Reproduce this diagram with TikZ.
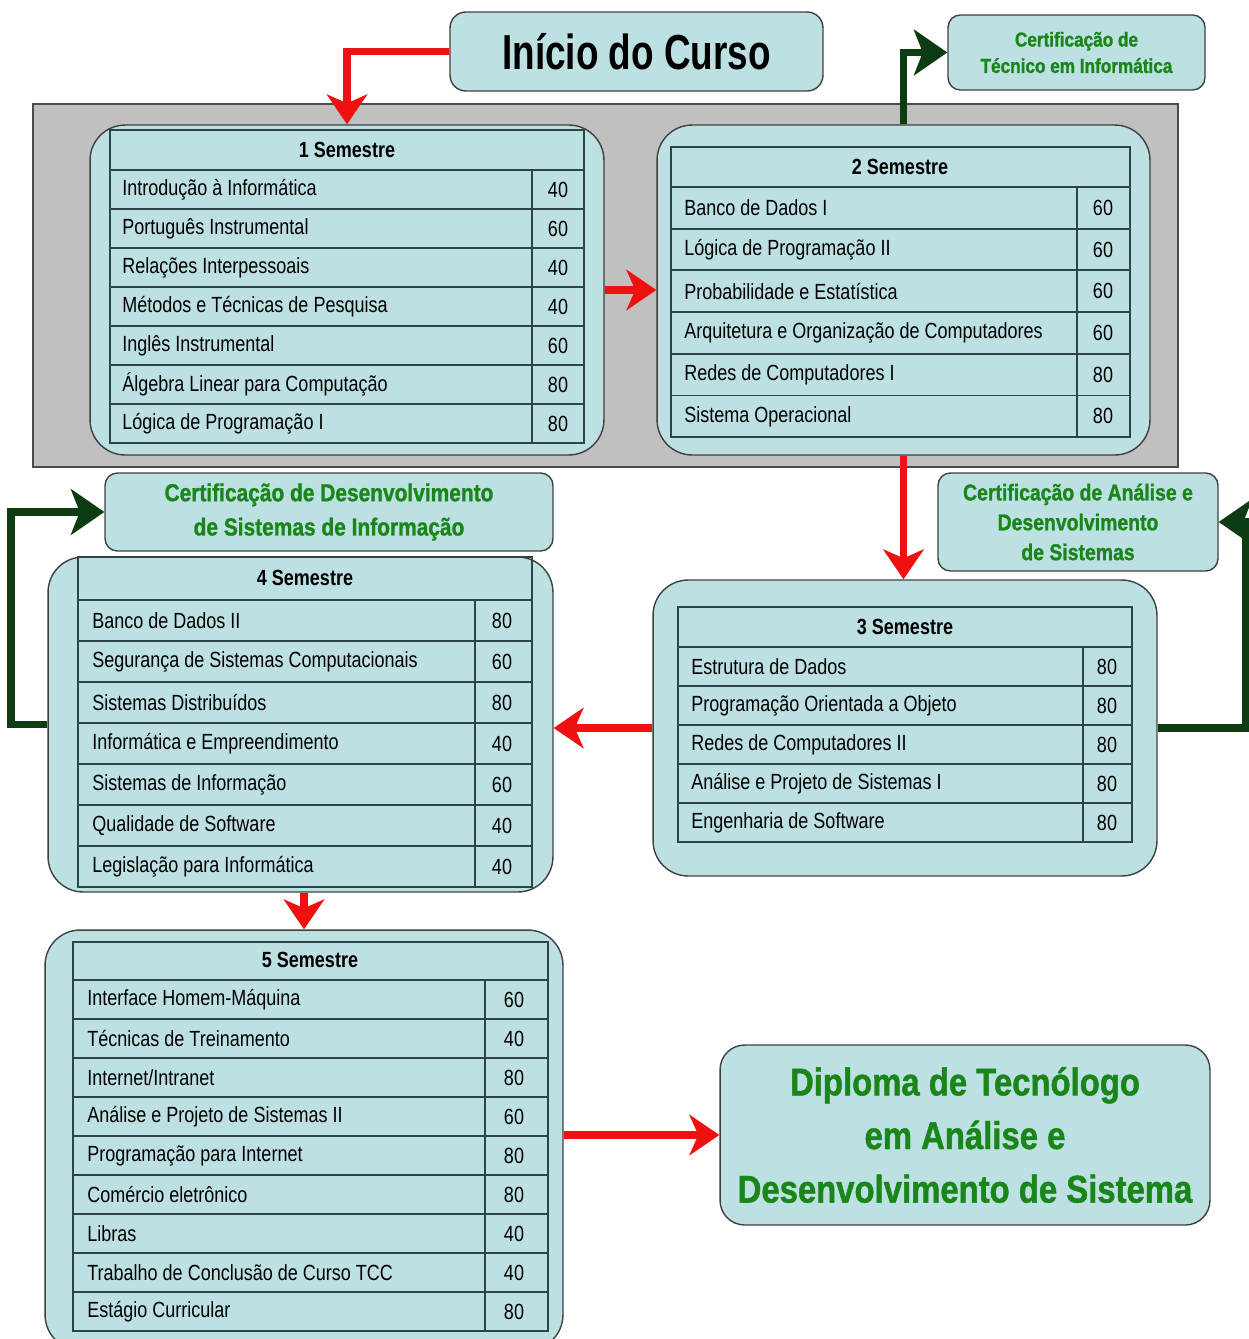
\documentclass[tikz,border=0pt]{standalone}
\usepackage{fontspec}
\setmainfont{Liberation Sans}
\newfontfamily\narrowfont[FakeStretch=0.82]{Liberation Sans}
\newfontfamily\titlefont[FakeStretch=0.75]{Liberation Sans}
\newfontfamily\certfont[FakeStretch=0.85,FakeBold=1.2]{Liberation Sans}
\usetikzlibrary{arrows.meta}
\definecolor{cardfill}{HTML}{BDE0E3}
\definecolor{panelgray}{HTML}{C0C0C0}
\definecolor{arrowred}{HTML}{F01010}
\definecolor{arrowgreen}{HTML}{0D3B12}
\definecolor{certgreen}{HTML}{1A861A}
\definecolor{tabcolor}{HTML}{2E4545}
\tikzset{
  card/.style={draw=black!75, fill=cardfill, line width=0.8pt, rounded corners=20pt},
  certbox/.style={draw=black!75, fill=cardfill, line width=0.8pt, rounded corners=7pt, align=center, text=certgreen},
  tabline/.style={draw=tabcolor, line width=1.1pt},
  rowtext/.style={anchor=west, inner sep=0pt, font=\narrowfont\fontsize{12.5}{14}\selectfont},
  numtext/.style={inner sep=0pt, font=\narrowfont\fontsize{12.5}{14}\selectfont},
  headtext/.style={inner sep=0pt, font=\narrowfont\bfseries\fontsize{12.5}{14}\selectfont},
  redarrow/.style={draw=arrowred, line width=4.5pt, -{Stealth[length=17pt,width=23pt,inset=5pt]}},
  greenarrow/.style={draw=arrowgreen, line width=4.5pt, -{Stealth[length=19pt,width=26pt,inset=5pt]}}
}
\begin{document}
\begin{tikzpicture}[x=0.02cm,y=-0.02cm]
\useasboundingbox (0,0) rectangle (1248,1339);

\draw[draw=black!70, fill=panelgray, line width=0.8pt] (33,104) rectangle (1178,467);

\node[card, rounded corners=9pt, minimum width=7.46cm, minimum height=1.58cm,
      font=\titlefont\bfseries\fontsize{28}{32}\selectfont] (inicio) at (636.5,51.5) {Início do Curso};
\node[certbox, minimum width=5.14cm, minimum height=1.5cm,
      font=\certfont\bfseries\fontsize{11.5}{15}\selectfont] (certtec) at (1076.5,52.5)
      {Certificação de\\Técnico em Informática};
\node[certbox, minimum width=5.6cm, minimum height=1.96cm,
      font=\certfont\bfseries\fontsize{13}{17}\selectfont] (certads) at (1078,522)
      {Certificação de Análise e\\Desenvolvimento\\de Sistemas};
\node[certbox, minimum width=8.96cm, minimum height=1.56cm,
      font=\certfont\bfseries\fontsize{14}{19.5}\selectfont] (certsi) at (329,512)
      {Certificação de Desenvolvimento\\de Sistemas de Informação};
\node[certbox, rounded corners=14pt, minimum width=9.8cm, minimum height=3.6cm,
      font=\certfont\bfseries\fontsize{22}{30.5}\selectfont] (diploma) at (965,1135)
      {Diploma de Tecnólogo\\em Análise e\\Desenvolvimento de Sistema};

\node[card, minimum width=10.28cm, minimum height=6.6cm] (sem1) at (347,290) {};
\node[card, minimum width=9.86cm, minimum height=6.6cm] (sem2) at (903.5,290) {};
\node[card, minimum width=10.08cm, minimum height=5.92cm] (sem3) at (905,728) {};
\node[card, minimum width=10.1cm, minimum height=6.7cm] (sem4) at (300.5,724.5) {};
\node[card, minimum width=10.36cm, minimum height=8.4cm] (sem5) at (304,1140) {};

\node[headtext] (h1) at (347,150) {1 Semestre};
\foreach \t/\n [count=\i] in {Introdução à Informática/40, Português Instrumental/60,
    Relações Interpessoais/40, Métodos e Técnicas de Pesquisa/40, Inglês Instrumental/60,
    Álgebra Linear para Computação/80, Lógica de Programação I/80}{
  \node[rowtext] (s1r\i) at (122,{170+(\i-0.5)*39}) {\t};
  \node[numtext] (s1n\i) at (558,{170+(\i-0.5)*39}) {\n};
  \draw[tabline] (110,{170+\i*39}) -- (584,{170+\i*39});
}
\draw[tabline] (110,130) rectangle (584,443) (110,170) -- (584,170) (532,170) -- (532,443);

\node[headtext] (h2) at (900,167) {2 Semestre};
\foreach \t/\n [count=\i] in {Banco de Dados I/60, Lógica de Programação II/60,
    Probabilidade e Estatística/60, Arquitetura e Organização de Computadores/60,
    Redes de Computadores I/80, Sistema Operacional/80}{
  \node[rowtext] (s2r\i) at (684,{187+(\i-0.5)*41.7}) {\t};
  \node[numtext] (s2n\i) at (1103,{187+(\i-0.5)*41.7}) {\n};
  \draw[tabline] (671,{187+\i*41.7}) -- (1130,{187+\i*41.7});
}
\draw[tabline] (671,147) rectangle (1130,437) (671,187) -- (1130,187) (1077,187) -- (1077,437);

\node[headtext] (h3) at (905,627) {3 Semestre};
\foreach \t/\n [count=\i] in {Estrutura de Dados/80, Programação Orientada a Objeto/80,
    Redes de Computadores II/80, Análise e Projeto de Sistemas I/80, Engenharia de Software/80}{
  \node[rowtext] (s3r\i) at (691,{647+(\i-0.5)*39}) {\t};
  \node[numtext] (s3n\i) at (1107,{647+(\i-0.5)*39}) {\n};
  \draw[tabline] (678,{647+\i*39}) -- (1132,{647+\i*39});
}
\draw[tabline] (678,607) rectangle (1132,842) (678,647) -- (1132,647) (1083,647) -- (1083,842);

\node[headtext] (h4) at (305,578) {4 Semestre};
\foreach \t/\n [count=\i] in {Banco de Dados II/80, Segurança de Sistemas Computacionais/60,
    Sistemas Distribuídos/80, Informática e Empreendimento/40, Sistemas de Informação/60,
    Qualidade de Software/40, Legislação para Informática/40}{
  \node[rowtext] (s4r\i) at (92,{600+(\i-0.5)*41}) {\t};
  \node[numtext] (s4n\i) at (502,{600+(\i-0.5)*41}) {\n};
  \draw[tabline] (78,{600+\i*41}) -- (532,{600+\i*41});
}
\draw[tabline] (78,557) rectangle (532,887) (78,600) -- (532,600) (475,600) -- (475,887);

\node[headtext] (h5) at (310,960) {5 Semestre};
\foreach \t/\n [count=\i] in {Interface Homem-Máquina/60, Técnicas de Treinamento/40,
    {Internet/Intranet}/80, Análise e Projeto de Sistemas II/60, Programação para Internet/80,
    Comércio eletrônico/80, Libras/40, Trabalho de Conclusão de Curso TCC/40,
    Estágio Curricular/80}{
  \node[rowtext] (s5r\i) at (87,{980+(\i-0.5)*39}) {\t};
  \node[numtext] (s5n\i) at (514,{980+(\i-0.5)*39}) {\n};
  \draw[tabline] (73,{980+\i*39}) -- (548,{980+\i*39});
}
\draw[tabline] (73,942) rectangle (548,1331) (73,980) -- (548,980) (485,980) -- (485,1331);

\draw[redarrow] (inicio.west) -| (sem1.north);
\draw[redarrow] (sem1.east) -- (sem2.west);
\draw[redarrow] (sem2.south) -- (sem2.south |- sem3.north);
\draw[redarrow] (sem3.west) -- (sem3.west -| sem4.east);
\draw[redarrow] (sem5.north |- sem4.south) -- (sem5.north);
\draw[redarrow] (sem5.east |- diploma.west) -- (diploma.west);
\draw[greenarrow] (sem2.north) |- (certtec.west);
\draw[greenarrow] (sem3.east) -- ++(88,0) |- (certads.east);
\draw[greenarrow] (sem4.west) -- ++(-36,0) |- (certsi.west);
\end{tikzpicture}
\end{document}
